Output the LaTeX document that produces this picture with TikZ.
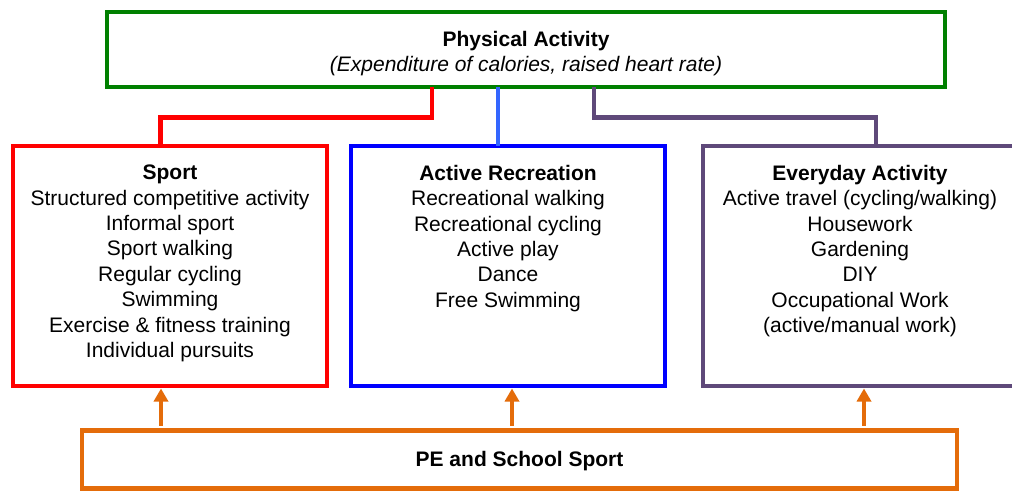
\documentclass[tikz,border=0pt]{standalone}
\usepackage{fontspec}
\setmainfont{Liberation Sans}
\usetikzlibrary{arrows.meta}
\definecolor{pagreen}{RGB}{0,128,0}
\definecolor{spred}{RGB}{255,0,0}
\definecolor{arblue}{RGB}{0,0,255}
\definecolor{lnblue}{RGB}{51,102,255}
\definecolor{evpurple}{RGB}{95,73,122}
\definecolor{peorange}{RGB}{228,108,10}
\tikzset{
  box/.style={draw=#1, line width=4.5pt, fill=white, rectangle, outer sep=0pt, inner sep=0pt, align=center},
  txt/.style={inner sep=0pt, outer sep=0pt, align=center, anchor=north},
  conn/.style={draw=#1, line width=4.5pt},
  uparrow/.style={draw=peorange, fill=peorange, line width=4.5pt, -{Triangle[width=14pt,length=13pt]}, shorten <=5pt, shorten >=2.5pt}
}
\begin{document}
\begin{tikzpicture}[x=1pt,y=-1pt,font=\fontsize{21}{25.4}\selectfont]
\useasboundingbox (0,0) rectangle (1012,492);
\clip (0,0) rectangle (1012,492);
\fill[white] (0,0) rectangle (1012,492);

% boxes
\node[box=pagreen, minimum width=838pt, minimum height=75pt] (pa) at (526,49.5) {};
\node[box=spred, minimum width=314pt, minimum height=240pt] (sport) at (170,266) {};
\node[box=arblue, minimum width=314pt, minimum height=240pt] (ar) at (508,266) {};
\node[box=evpurple, minimum width=314pt, minimum height=240pt] (ev) at (860,266) {};
\node[box=peorange, minimum width=875pt, minimum height=58pt] (pe) at (519.5,459.5) {};

% texts
\node[txt, anchor=center] (patxt) at ([yshift=-4pt]pa.center)
  {\textbf{Physical Activity}\\[-1pt]\textit{(Expenditure of calories, raised heart rate)}};
\node[txt, anchor=center] (petxt) at ([yshift=-2pt]pe.center)
  {\textbf{PE and School Sport}};
\node[txt] (sporttxt) at ([yshift=-19pt]sport.north)
  {\textbf{Sport}\\Structured competitive activity\\Informal sport\\Sport walking\\Regular cycling\\Swimming\\Exercise \& fitness training\\Individual pursuits};
\node[txt] (artxt) at ([yshift=-19pt]ar.north)
  {\textbf{Active Recreation}\\Recreational walking\\Recreational cycling\\Active play\\Dance\\Free Swimming};
\node[txt] (evtxt) at ([yshift=-19pt]ev.north)
  {\textbf{Everyday Activity}\\Active travel (cycling/walking)\\Housework\\Gardening\\DIY\\Occupational Work\\(active/manual work)};

% connectors
\coordinate (ra) at (432,117.5);
\coordinate (rb) at (160.5,117.5);
\draw[conn=spred] (pa.south -| ra) -- (ra) -- (rb) -- (rb |- sport.north);
\coordinate (bl) at (498,0);
\draw[conn=lnblue, line width=4pt] (pa.south -| bl) -- (ar.north -| bl);
\coordinate (pa1) at (594,117.5);
\coordinate (pb) at (876,117.5);
\draw[conn=evpurple] (pa.south -| pa1) -- (pa1) -- (pb) -- (pb |- ev.north);

% arrows
\coordinate (a1) at (161,0);
\coordinate (a2) at (512,0);
\coordinate (a3) at (864,0);
\draw[uparrow] (pe.north -| a1) -- (sport.south -| a1);
\draw[uparrow] (pe.north -| a2) -- (ar.south -| a2);
\draw[uparrow] (pe.north -| a3) -- (ev.south -| a3);
\end{tikzpicture}
\end{document}
